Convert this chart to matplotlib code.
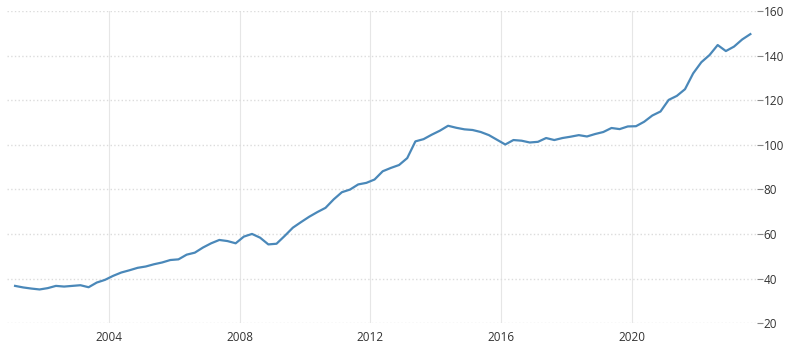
import numpy as np
import matplotlib
matplotlib.use('Agg')
import matplotlib.pyplot as plt

# quarterly index values, 2001 Q1 .. 2023 Q3
start_year = 2001.125
values = [
    36.7, 36.0, 35.5, 35.1, 35.7, 36.7, 36.4, 36.7, 37.0, 36.1,
    38.2, 39.4, 41.2, 42.7, 43.7, 44.8, 45.4, 46.4, 47.2, 48.3,
    48.6, 50.7, 51.6, 53.9, 55.8, 57.3, 56.8, 55.8, 58.8, 60.0,
    58.3, 55.3, 55.6, 59.1, 62.8, 65.3, 67.7, 69.8, 71.7, 75.5,
    78.7, 79.9, 82.2, 82.9, 84.4, 88.1, 89.6, 90.9, 94.0, 101.5,
    102.5, 104.5, 106.3, 108.5, 107.6, 106.9, 106.6, 105.7, 104.3, 102.2,
    100.1, 102.1, 101.8, 101.0, 101.3, 103.0, 102.1, 103.0, 103.6, 104.3,
    103.7, 104.8, 105.7, 107.5, 107.0, 108.2, 108.3, 110.3, 113.1, 114.9,
    120.1, 121.9, 124.9, 132.0, 137.0, 140.2, 144.7, 142.0, 144.0, 147.2,
    149.6,
]
years = start_year + 0.25 * np.arange(len(values))

xticks = [2004, 2008, 2012, 2016, 2020]
yticks = [20, 40, 60, 80, 100, 120, 140, 160]

fig = plt.figure(figsize=(7.85, 3.52), dpi=100)
ax = fig.add_axes([0.009, 0.082, 0.955, 0.887])

ax.plot(years, values, color='#4a88b9', linewidth=1.6, solid_joinstyle='round')

ax.set_xlim(2000.88, 2023.82)
ax.set_ylim(20, 160)
ax.set_xticks(xticks)
ax.set_yticks(yticks)
ax.set_xticklabels([str(x) for x in xticks])

ax.yaxis.tick_right()
ax.grid(True, axis='y', color='#dcdcdc', linestyle=':', linewidth=1.0)
ax.grid(True, axis='x', color='#e6e6e6', linestyle='-', linewidth=0.8)
ax.set_axisbelow(True)

for s in ax.spines.values():
    s.set_visible(False)

ax.tick_params(axis='y', which='both', length=4, color='#888888', width=0.8,
               labelsize=8.5, labelcolor='#333333', pad=1)
ax.tick_params(axis='x', which='both', length=0, labelsize=8.5,
               labelcolor='#333333', pad=6)
for lab in ax.get_xticklabels() + ax.get_yticklabels():
    lab.set_family('Open Sans')

fig.savefig('out.png', dpi=100)
